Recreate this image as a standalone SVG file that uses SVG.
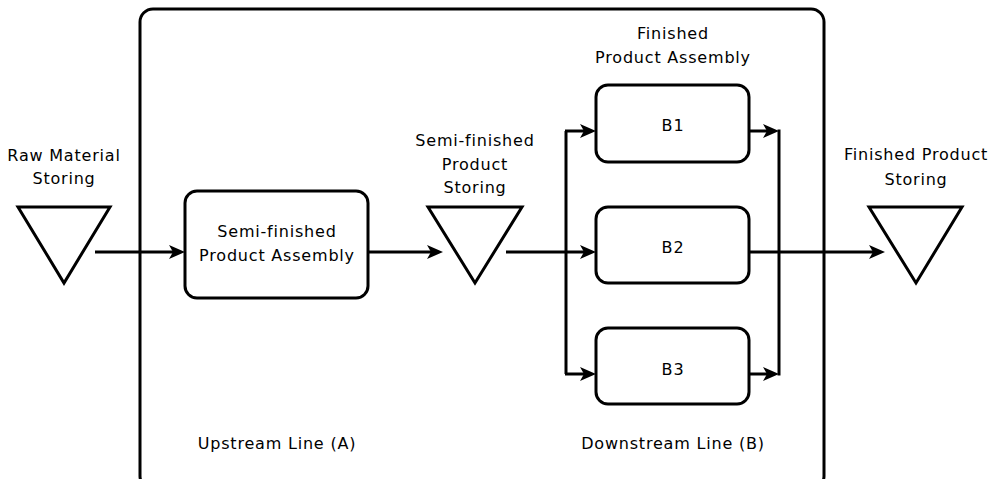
<svg xmlns="http://www.w3.org/2000/svg" width="991" height="479" viewBox="0 0 991 479">
<defs>
<marker id="ah" viewBox="0 0 16 14" refX="8" refY="7" markerWidth="16" markerHeight="14" markerUnits="userSpaceOnUse" orient="auto">
<path d="M0,0 L16,7 L0,14 L4,7 Z" fill="#000"/>
</marker>
<style>
.t{font-family:"DejaVu Sans",sans-serif;font-size:16px;letter-spacing:0.8px;fill:#000;text-anchor:middle}
.box{fill:#fff;stroke:#000;stroke-width:3}
.st{fill:#fff;stroke:#000;stroke-width:3;stroke-linejoin:miter}
.c{fill:none;stroke:#000;stroke-width:3}
</style>
</defs>
<rect width="991" height="479" fill="#fff"/>
<g id="container">
<rect x="140" y="9" width="684" height="480" rx="13" ry="13" fill="none" stroke="#000" stroke-width="3"/>
<text class="t" x="277" y="449">Upstream Line (A)</text>
<text class="t" x="673" y="449">Downstream Line (B)</text>
</g>
<g id="connectors">
<path class="c" d="M95,252 H177" marker-end="url(#ah)"/>
<path class="c" d="M368,252 H435" marker-end="url(#ah)"/>
<path class="c" d="M506,252 H588" marker-end="url(#ah)"/>
<path class="c" d="M566,131 V374"/>
<path class="c" d="M565,131 H588" marker-end="url(#ah)"/>
<path class="c" d="M565,374 H588" marker-end="url(#ah)"/>
<path class="c" d="M749,131 H771" marker-end="url(#ah)"/>
<path class="c" d="M749,374 H771" marker-end="url(#ah)"/>
<path class="c" d="M779,129.5 V375.5"/>
<path class="c" d="M749,252 H877" marker-end="url(#ah)"/>
</g>
<g id="raw-material">
<polygon class="st" points="18,207 110,207 64,283"/>
<text class="t" x="64" y="161">Raw Material</text>
<text class="t" x="64" y="184">Storing</text>
</g>
<g id="semi-assembly">
<rect class="box" x="185" y="191" width="183" height="107" rx="12" ry="12"/>
<text class="t" x="277" y="237">Semi-finished</text>
<text class="t" x="277" y="261">Product Assembly</text>
</g>
<g id="semi-storing">
<polygon class="st" points="428,207 522,207 475,283"/>
<text class="t" x="475" y="146">Semi-finished</text>
<text class="t" x="475" y="170">Product</text>
<text class="t" x="475" y="193">Storing</text>
</g>
<g id="finished-assembly-label">
<text class="t" x="673" y="39">Finished</text>
<text class="t" x="673" y="63">Product Assembly</text>
</g>
<g id="B1">
<rect class="box" x="596" y="85" width="153" height="77" rx="12" ry="12"/>
<text class="t" x="673" y="131">B1</text>
</g>
<g id="B2">
<rect class="box" x="596" y="207" width="153" height="76" rx="12" ry="12"/>
<text class="t" x="673" y="253">B2</text>
</g>
<g id="B3">
<rect class="box" x="596" y="328" width="153" height="76" rx="12" ry="12"/>
<text class="t" x="673" y="375">B3</text>
</g>
<g id="finished-storing">
<polygon class="st" points="869,207 962,207 916,283"/>
<text class="t" x="916" y="160">Finished Product</text>
<text class="t" x="916" y="185">Storing</text>
</g>
</svg>
